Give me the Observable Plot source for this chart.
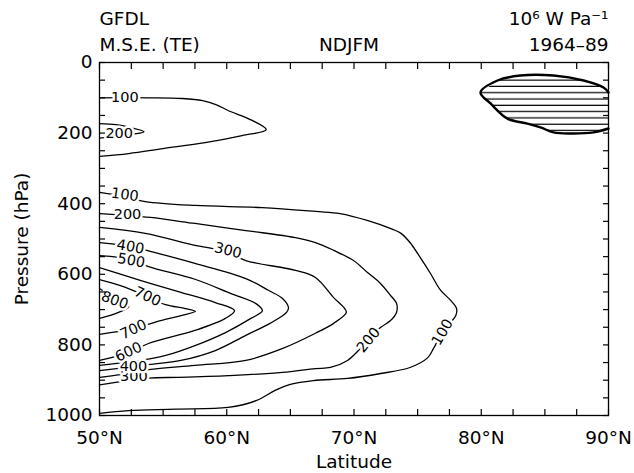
<!DOCTYPE html>
<html><head><meta charset="utf-8">
<script src="https://cdn.jsdelivr.net/npm/d3@7"></script>
<script src="https://cdn.jsdelivr.net/npm/@observablehq/plot@0.6"></script>
<style>body{margin:0;background:#fff} svg{display:block} #chart{width:634px;height:473px}</style>
</head><body><div id="chart"></div>
<script>
// ---- text ----
const titleLeft = ["GFDL", "M.S.E. (TE)"];
const titleCenter = "NDJFM";
const titleRight = ["10\u2076 W Pa\u207B\u00B9", "1964\u201389"];
const xTitle = "Latitude";
const yTitle = "Pressure (hPa)";

// ---- axes ----
const latTicks = [50, 60, 70, 80, 90];
const latLabels = ["50°N", "60°N", "70°N", "80°N", "90°N"];
const latMinorTicks = [50, 52.5, 55, 57.5, 60, 62.5, 65, 67.5, 70, 72.5, 75, 77.5, 80, 82.5, 85, 87.5, 90];
const pressureTicks = [0, 200, 400, 600, 800, 1000];
const pressureMinorTicks = [0, 50, 100, 150, 200, 250, 300, 350, 400, 450, 500, 550, 600, 650, 700, 750, 800, 850, 900, 950, 1000];

// ---- contour lines [latitude, pressure] ----
const c100upper = [[50,100],[53.9,100],[56.5,102],[58.1,108],[59.2,120],[60.1,136],[62.0,164],[63.1,190],[61.2,207],[58.3,227],[55.0,244],[52.3,258],[50,266]];
const c200upper = [[50,173],[51.3,176],[52.4,184],[53.5,196],[52.4,204],[51.3,209],[50,214]];
const c100 = [[50,368],[52.0,380],[53.6,394],[57.5,405],[62.8,411],[67.0,422],[68.9,428],[71.1,448],[73.0,472],[73.7,484],[74.4,510],[75.2,552],[76.0,597],[76.8,645],[77.6,674],[78.06,697],[78.0,717],[77.6,736],[76.95,764],[76.25,810],[75.8,836],[74.4,864],[72.1,881],[69.5,895],[66.8,901],[65.0,912],[63.8,929],[62.3,958],[60.1,977],[56.0,982],[52.3,986],[50,994]];
const c200 = [[50,428],[52.1,433],[54.0,439],[57.5,456],[61.5,476],[65.4,496],[66.97,510],[68.4,532],[69.96,561],[71.06,595],[72.08,626],[72.87,660],[73.34,682],[73.34,708],[72.87,731],[72.08,751],[71.14,785],[70.35,816],[69.49,844],[68.15,864],[66.97,867],[64.38,878],[60.14,887],[56.21,892],[53.85,894],[50,913]];
const c300 = [[50,467],[53.6,484],[57.5,518],[58.9,527],[60.1,538],[61.5,561],[65.4,589],[66.97,609],[68.4,666],[69.2,694],[69.4,708],[68.4,739],[66.97,767],[64.4,810],[61.5,844],[57.5,858],[53.85,870],[51.65,884],[50,892]];
const c400 = [[50,510],[52.44,521],[54.0,535],[57.5,569],[61.5,612],[63.3,646],[64.4,669],[64.85,694],[64.7,708],[63.4,739],[61.5,773],[59.1,816],[56.4,844],[53.85,856],[50,873]];
const c500 = [[50,547],[52.5,558],[53.85,578],[57.5,614],[60.3,654],[62.3,683],[62.8,703],[61.9,725],[59.9,765],[57.5,802],[55.2,830],[53.2,844],[50,858]];
const c600 = [[50,581],[53.2,617],[56.4,651],[59.1,680],[60.61,703],[59.9,725],[57.5,759],[53.85,796],[52.3,822],[50,844]];
const c700 = [[50,615],[51.65,632],[53.77,663],[55.19,686],[56.76,697],[57.54,705],[56.4,717],[54.8,731],[52.67,754],[50,770]];
const c800 = [[50,640],[51.18,668],[52.3,691],[51.5,708],[50,725]];
const contourLines = [c100upper, c200upper, c100, c200, c300, c400, c500, c600, c700, c800];

// negative (hatched) region near the pole
const negativeRegion = [[90,85],[89.61,71],[88.04,51],[85.68,37],[83.08,37],[81.28,51],[79.94,85],[80.73,116],[82.06,159],[83.63,173],[84.66,184],[85.68,198],[87.02,201],[88.82,198],[90,187]];

// ---- contour labels ----
const labelText = ["100","200","100","100","200","200","300","300","400","400","500","600","700","700","800"];
const labelLat  = [52.0, 51.55, 52.0, 76.95, 52.2, 71.14, 60.1, 52.7, 52.44, 52.67, 52.5, 52.28, 53.77, 52.67, 51.2];
const labelP    = [100, 201, 375, 764, 430, 786, 533, 889, 522, 861, 561, 820, 663, 756, 674];
const labelAngle= [0, 0, 8, -60, 0, -50, 14, 0, 10, 0, 10, -25, 25, -25, 20];

const lineRows = contourLines.flatMap((c, k) => c.map(([lat, p]) => ({lat, p, k})));
const regionRows = negativeRegion.map(([lat, p]) => ({lat, p}));
const labelRows = labelText.map((t, i) => ({text: t, lat: labelLat[i], p: labelP[i], angle: labelAngle[i]}));

const font = "DejaVu Sans, sans-serif";
const fs = 18.5;

const plot = Plot.plot({
  width: 634,
  height: 473,
  marginLeft: 99,
  marginRight: 26,
  marginTop: 62,
  marginBottom: 58,
  style: {fontFamily: font, background: "white", color: "black"},
  x: {domain: [50, 90], label: null},
  y: {domain: [0, 1000], reverse: true, label: null},
  marks: [
    Plot.line(regionRows, {x: "lat", y: "p", fill: "url(#hatch)", stroke: "none"}),
    Plot.line(regionRows, {x: "lat", y: "p", stroke: "black", strokeWidth: 2.4, curve: "catmull-rom"}),
    Plot.line(lineRows, {x: "lat", y: "p", z: "k", stroke: "black", strokeWidth: 1.3, curve: "catmull-rom"}),
    Plot.text(labelRows, {x: "lat", y: "p", text: "text", rotate: "angle", fontSize: 14.5, fill: "black", stroke: "white", strokeWidth: 5, paintOrder: "stroke"}),
    Plot.frame({strokeWidth: 1.3}),
    Plot.axisX(latMinorTicks, {anchor: "bottom", tickSize: -6, tickFormat: () => "", strokeWidth: 1.2}),
    Plot.axisX(latMinorTicks, {anchor: "top", tickSize: -6, tickFormat: () => "", strokeWidth: 1.2}),
    Plot.axisY(pressureMinorTicks, {anchor: "left", tickSize: -6, tickFormat: () => "", strokeWidth: 1.2}),
    Plot.axisY(pressureMinorTicks, {anchor: "right", tickSize: -6, tickFormat: () => "", strokeWidth: 1.2}),
    Plot.axisX(latTicks, {anchor: "bottom", tickSize: 0, tickPadding: 15, fontSize: fs, tickFormat: (d) => latLabels[latTicks.indexOf(d)]}),
    Plot.axisY(pressureTicks, {anchor: "left", tickSize: 0, tickPadding: 7, fontSize: fs, tickFormat: d => String(d)}),
    Plot.text([xTitle], {frameAnchor: "bottom", dy: 52, lineAnchor: "bottom", fontSize: fs}),
    Plot.text([yTitle], {frameAnchor: "left", textAnchor: "middle", dx: -77, rotate: -90, fontSize: fs}),
    Plot.text([titleLeft[0]], {frameAnchor: "top-left", textAnchor: "start", dy: -38, lineAnchor: "bottom", fontSize: fs}),
    Plot.text([titleLeft[1]], {frameAnchor: "top-left", textAnchor: "start", dy: -12, lineAnchor: "bottom", fontSize: fs}),
    Plot.text([titleCenter], {frameAnchor: "top", dx: -5, dy: -12, lineAnchor: "bottom", fontSize: fs}),
    Plot.text([titleRight[0]], {frameAnchor: "top-right", textAnchor: "end", dy: -38, lineAnchor: "bottom", fontSize: fs}),
    Plot.text([titleRight[1]], {frameAnchor: "top-right", textAnchor: "end", dy: -12, lineAnchor: "bottom", fontSize: fs})
  ]
});

// hatch pattern definition
const defs = d3.create("svg:defs");
const pat = defs.append("pattern").attr("id", "hatch").attr("patternUnits", "userSpaceOnUse")
  .attr("x", 0).attr("y", 1).attr("width", 10).attr("height", 6.3);
pat.append("line").attr("x1", 0).attr("x2", 10).attr("y1", 3).attr("y2", 3)
  .attr("stroke", "black").attr("stroke-width", 1.2);
plot.insertBefore(defs.node(), plot.firstChild);

document.getElementById("chart").appendChild(plot);
</script>
</body></html>
